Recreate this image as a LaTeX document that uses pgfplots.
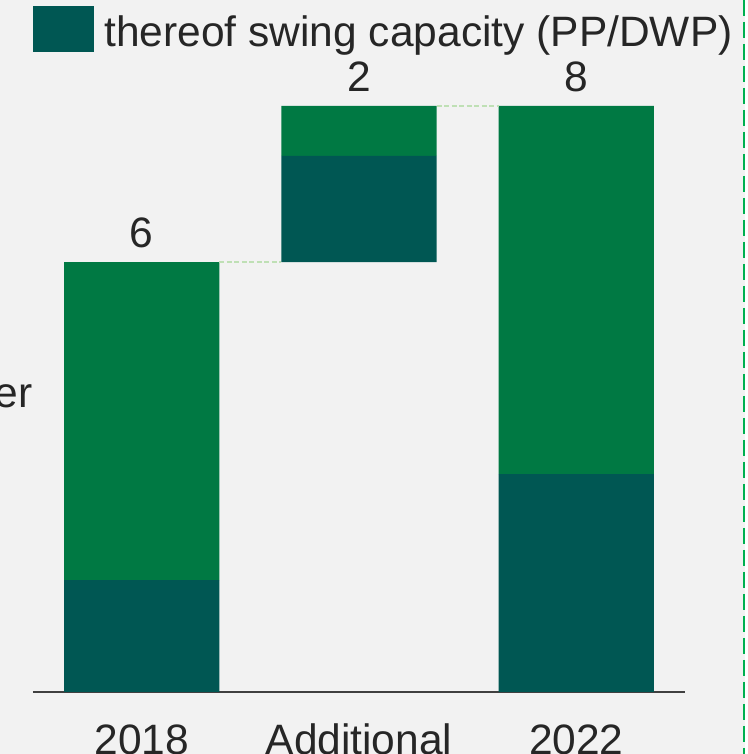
\documentclass[border=0pt]{standalone}
\usepackage{fontspec}
\setmainfont{Liberation Sans}
\usepackage{pgfplots}
\pgfplotsset{compat=1.18}
\definecolor{bg}{HTML}{F2F2F2}
\definecolor{darkteal}{HTML}{005753}
\definecolor{midgreen}{HTML}{007943}
\definecolor{conn}{HTML}{BFE0B5}
\definecolor{brightgreen}{HTML}{00B050}
\definecolor{txt}{HTML}{262626}
\newcommand{\bigfont}{\fontsize{21.25pt}{25pt}\selectfont}
\begin{document}
\begin{tikzpicture}
\path[use as bounding box, fill=bg] (0,0) rectangle (374pt,377pt);
\fill[white] (372.5pt,0) rectangle (374pt,377pt);
\draw[brightgreen, line width=1pt, dash pattern=on 8pt off 3pt] (371.75pt,377pt) -- (371.75pt,0);
% legend
\fill[darkteal] (16.5pt,351pt) rectangle (47pt,374pt);
\node[anchor=base west, inner sep=0, text=txt, font=\bigfont] at (52pt,353.5pt) {thereof swing capacity (PP/DWP)};
% clipped side label
\node[anchor=base east, inner sep=0, text=txt, font=\bigfont] at (16.5pt,173pt) {er};
\begin{axis}[
  at={(16.5pt,31pt)}, anchor=south west,
  scale only axis, width=326pt, height=322.5pt,
  xmin=-0.5, xmax=2.5, ymin=0, ymax=9,
  ybar stacked, bar width=0.714,
  axis x line=bottom, axis y line=none,
  x axis line style={-, draw=black!75, line width=1pt},
  xtick={0,1,2}, xticklabels={2018,Additional,2022},
  xtick style={draw=none},
  xticklabel style={anchor=base, yshift=-29pt, inner sep=0},
  tick label style={font=\bigfont, text=txt},
  clip=false,
]
\addplot[fill=none, draw=none, forget plot] coordinates {(0,0) (1,6.0) (2,0)};
\addplot[fill=darkteal, draw=none] coordinates {(0,1.56) (1,1.48) (2,3.04)};
\addplot[fill=midgreen, draw=none] coordinates {(0,4.44) (1,0.70) (2,5.14)};
\end{axis}
\begin{axis}[
  at={(16.5pt,31pt)}, anchor=south west,
  scale only axis, width=326pt, height=322.5pt,
  xmin=-0.5, xmax=2.5, ymin=0, ymax=9,
  hide axis, clip=false,
]
\addplot[conn, line width=1pt, dash pattern=on 2.5pt off 1.25pt] coordinates {(0.357,6.0) (0.643,6.0)};
\addplot[conn, line width=1pt, dash pattern=on 2.5pt off 1.25pt] coordinates {(1.357,8.18) (1.643,8.18)};
\node[anchor=base, inner sep=0, text=txt, font=\bigfont, yshift=7pt] at (axis cs:0,6.0) {6};
\node[anchor=base, inner sep=0, text=txt, font=\bigfont, yshift=7pt] at (axis cs:1,8.18) {2};
\node[anchor=base, inner sep=0, text=txt, font=\bigfont, yshift=7pt] at (axis cs:2,8.18) {8};
\end{axis}
\end{tikzpicture}
\end{document}
